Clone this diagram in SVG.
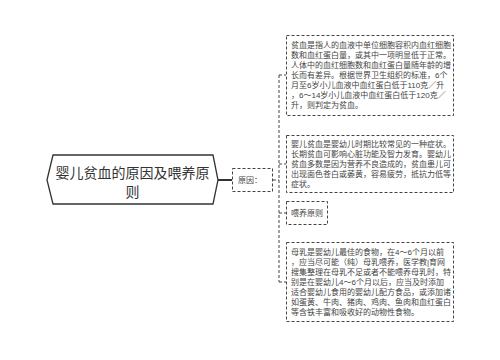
<svg xmlns="http://www.w3.org/2000/svg" width="500" height="360" viewBox="0 0 500 360">
<style>
.t{font-family:"Liberation Sans","Noto Sans CJK SC",sans-serif;font-size:8px;fill:#444}
.box{fill:#fff;stroke:#444;stroke-width:1;stroke-dasharray:3 2}
.c{fill:none;stroke:#444;stroke-width:1;stroke-dasharray:3 2}
.main{font-family:"Liberation Sans","Noto Sans CJK SC",sans-serif;font-size:14px;fill:#333;text-anchor:middle}
</style>
<rect width="500" height="360" fill="#fff"/>
<g id="connectors">
<line x1="218" y1="180" x2="232" y2="180" stroke="#333" stroke-width="2"/>
<path class="c" d="M273 180H279M279 75V282M279 75H286M279 164H286M279 213H286M279 282H286"/>
</g>
<g id="root">
<polygon points="47,180 53,155 213,155 218,180 213,204 53,204" fill="#fff" stroke="#333" stroke-width="1.3"/>
<text class="main" x="132.5" y="178">婴儿贫血的原因及喂养原</text>
<text class="main" x="132.5" y="197">则</text>
</g>
<g id="reason">
<rect class="box" x="232.5" y="168.5" width="40" height="23"/>
<text class="t" x="238" y="183">原因：</text>
</g>
<g id="box1">
<rect class="box" x="286.5" y="35.5" width="167" height="80"/>
<text class="t" x="291" y="48">贫血是指人的血液中单位细胞容积内血红细胞</text>
<text class="t" x="291" y="58">数和血红蛋白量，或其中一项明显低于正常。</text>
<text class="t" x="291" y="68">人体中的血红细胞数和血红蛋白量随年龄的增</text>
<text class="t" x="291" y="78">长而有差异。根据世界卫生组织的标准，6个</text>
<text class="t" x="291" y="88">月至6岁小儿血液中血红蛋白低于110克／升</text>
<text class="t" x="291" y="98">，6～14岁小儿血液中血红蛋白低于120克／</text>
<text class="t" x="291" y="108">升，则判定为贫血。</text>
</g>
<g id="box2">
<rect class="box" x="286.5" y="135.5" width="167" height="57"/>
<text class="t" x="291" y="147">婴儿贫血是婴幼儿时期比较常见的一种症状。</text>
<text class="t" x="291" y="157">长期贫血可影响心脏功能及智力发育。婴幼儿</text>
<text class="t" x="291" y="167">贫血多数是因为营养不良造成的，贫血患儿可</text>
<text class="t" x="291" y="177">出现面色苍白或萎黄，容易疲劳，抵抗力低等</text>
<text class="t" x="291" y="187">症状。</text>
</g>
<g id="box3">
<rect class="box" x="286.5" y="201.5" width="41" height="23"/>
<text class="t" x="291" y="216">喂养原则</text>
</g>
<g id="box4">
<rect class="box" x="286.5" y="242.5" width="167" height="79"/>
<text class="t" x="291" y="255">母乳是婴幼儿最佳的食物，在4～6个月以前</text>
<text class="t" x="291" y="265">，应当尽可能（纯）母乳喂养，医学教|育网</text>
<text class="t" x="291" y="275">搜集整理在母乳不足或者不能喂养母乳时，特</text>
<text class="t" x="291" y="285">别是在婴幼儿4～6个月以后，应当及时添加</text>
<text class="t" x="291" y="295">适合婴幼儿食用的婴幼儿配方食品，或添加诸</text>
<text class="t" x="291" y="305">如蛋黄、牛肉、猪肉、鸡肉、鱼肉和血红蛋白</text>
<text class="t" x="291" y="315">等含铁丰富和吸收好的动物性食物。</text>
</g>
</svg>
